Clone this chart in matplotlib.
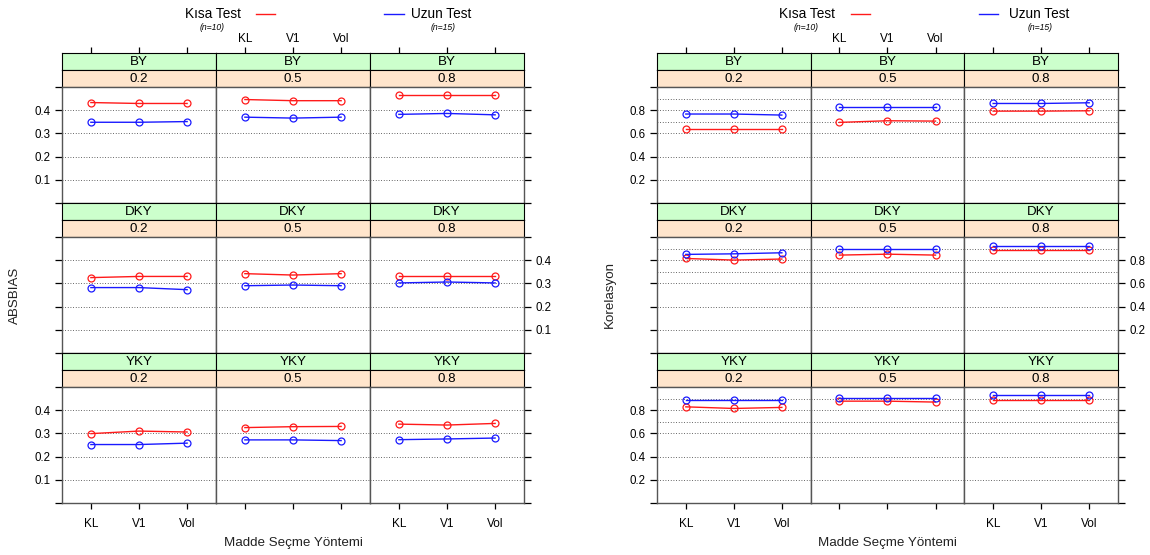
import numpy as np
import matplotlib as mpl
mpl.use('Agg')
import matplotlib.pyplot as plt
from matplotlib.lines import Line2D

plt.rcParams['font.family'] = ['Liberation Sans', 'DejaVu Sans']

W, H = 1150, 555

yontem = ['KL', 'V1', 'Vol']
oran = ['0.2', '0.5', '0.8']
kosul = ['BY', 'DKY', 'YKY']

# values per [kosul][oran][yontem]
absbias_kisa = [[[0.433, 0.429, 0.429], [0.446, 0.441, 0.441], [0.466, 0.466, 0.466]],
                [[0.325, 0.330, 0.330], [0.342, 0.336, 0.342], [0.333, 0.333, 0.333]],
                [[0.299, 0.310, 0.306], [0.325, 0.329, 0.330], [0.340, 0.336, 0.343]]]
absbias_uzun = [[[0.348, 0.348, 0.351], [0.370, 0.366, 0.370], [0.382, 0.386, 0.380]],
                [[0.282, 0.282, 0.273], [0.290, 0.293, 0.290], [0.302, 0.306, 0.302]],
                [[0.252, 0.252, 0.258], [0.272, 0.272, 0.269], [0.273, 0.276, 0.280]]]

kor_kisa = [[[0.638, 0.638, 0.638], [0.695, 0.709, 0.706], [0.792, 0.792, 0.795]],
            [[0.815, 0.801, 0.810], [0.844, 0.852, 0.844], [0.887, 0.887, 0.887]],
            [[0.829, 0.815, 0.824], [0.878, 0.878, 0.870], [0.885, 0.885, 0.885]]]
kor_uzun = [[[0.767, 0.767, 0.758], [0.826, 0.826, 0.826], [0.858, 0.858, 0.864]],
            [[0.850, 0.855, 0.864], [0.898, 0.898, 0.898], [0.921, 0.921, 0.921]],
            [[0.887, 0.887, 0.887], [0.906, 0.906, 0.906], [0.930, 0.930, 0.930]]]

absbias_ticks = [0.0, 0.1, 0.2, 0.3, 0.4, 0.5]
absbias_labels = ['', '0.1', '0.2', '0.3', '0.4', '']
absbias_grid = [0.1, 0.2, 0.3, 0.4]
kor_ticks = [0.0, 0.2, 0.4, 0.6, 0.8, 1.0]
kor_labels = ['', '0.2', '0.4', '0.6', '0.8', '']
kor_grid = [0.2, 0.4, 0.6, 0.7, 0.8, 0.9]

GREEN = '#ccffcc'
ORANGE = '#ffe5cc'
FRAME = '#555555'

fig = plt.figure(figsize=(W / 100, H / 100), dpi=100)


def px_axes(left, top, width, height):
    return fig.add_axes([left / W, 1 - (top + height) / H, width / W, height / H])


def draw_lattice(x0, x1, kisa, uzun, ylim, yticks, ylabels, grid, ylabel, ylab_x, leg):
    cw = (x1 - x0) / 3.0
    rows_top = [53, 203, 353]
    for r in range(3):
        top = rows_top[r]
        for c in range(3):
            left = x0 + c * cw
            # strips
            s1 = px_axes(left, top, cw, 17)
            s1.set_facecolor(GREEN)
            s1.set_xlim(0.4, 3.6)
            s1.set_ylim(0, 1)
            s1.text(0.5, 0.45, kosul[r], transform=s1.transAxes, ha='center', va='center', fontsize=9.6)
            s1.set_yticks([])
            s2 = px_axes(left, top + 17, cw, 17)
            s2.set_facecolor(ORANGE)
            s2.set_xticks([])
            s2.set_yticks([])
            s2.text(0.5, 0.45, oran[c], transform=s2.transAxes, ha='center', va='center', fontsize=9.6)
            for s in (s1, s2):
                for sp in s.spines.values():
                    sp.set_color('black')
                    sp.set_linewidth(0.8)
            if r == 0:
                s1.set_xticks([1, 2, 3])
                s1.xaxis.tick_top()
                s1.tick_params(axis='x', direction='out', length=4, width=0.9, pad=1.5,
                               labelsize=8.5, labeltop=(c == 1), bottom=False, labelbottom=False)
                s1.set_xticklabels(yontem)
            else:
                s1.set_xticks([])

            # panel
            ax = px_axes(left, top + 34, cw, 116)
            ax.set_xlim(0.4, 3.6)
            ax.set_ylim(*ylim)
            for g in grid:
                ax.axhline(g, color='#333333', lw=0.6, ls=(0, (1, 2.2)), zorder=1)
            x = np.arange(1, 4)
            ax.plot(x, kisa[r][c], color='#ff1a1a', lw=1.0, marker='o', ms=5, mfc='none',
                    mew=0.9, zorder=3)
            ax.plot(x, uzun[r][c], color='#1a1aff', lw=1.0, marker='o', ms=5, mfc='none',
                    mew=0.9, zorder=3)
            for sp in ax.spines.values():
                sp.set_color(FRAME)
                sp.set_linewidth(1.0)

            # y ticks on outer sides only
            ax.set_yticks(yticks)
            ax.set_yticklabels(ylabels)
            ax.tick_params(axis='y', direction='out', length=5, width=0.9, pad=3,
                           labelsize=8.3, colors='black',
                           left=(c == 0), labelleft=(c == 0 and r != 1),
                           right=(c == 2), labelright=(c == 2 and r == 1))
            if r == 2:
                ax.set_xticks([1, 2, 3])
                ax.set_xticklabels(yontem)
                ax.tick_params(axis='x', direction='out', length=4, width=0.9, pad=7,
                               labelsize=8.5, labelbottom=(c != 1))
            else:
                ax.set_xticks([])

    # axis labels
    fig.text(((x0 + x1) / 2) / W, 1 - 543 / H, 'Madde Seçme Yöntemi', ha='center', va='center',
             fontsize=9.6, color='#222222')
    fig.text(ylab_x / W, 1 - 295 / H, ylabel, ha='center', va='center', rotation=90,
             fontsize=9.6, color='#222222')

    # legend
    kt_right, red_line, n10_x, blue_line, ut_left, n15_x = leg
    fig.text(kt_right / W, 1 - 14 / H, 'Kısa Test', ha='right', va='center', fontsize=9.8)
    fig.add_artist(Line2D([red_line[0] / W, red_line[1] / W], [1 - 14 / H, 1 - 14 / H],
                          color='#ff1a1a', lw=1.0, transform=fig.transFigure))
    fig.text(n10_x / W, 1 - 28 / H, '(n=10)', ha='center', va='center', fontsize=6.2, style='italic')
    fig.add_artist(Line2D([blue_line[0] / W, blue_line[1] / W], [1 - 14 / H, 1 - 14 / H],
                          color='#1a1aff', lw=1.0, transform=fig.transFigure))
    fig.text(ut_left / W, 1 - 14 / H, 'Uzun Test', ha='left', va='center', fontsize=9.8)
    fig.text(n15_x / W, 1 - 28 / H, '(n=15)', ha='center', va='center', fontsize=6.2, style='italic')


draw_lattice(62, 524, absbias_kisa, absbias_uzun, (0.0, 0.5), absbias_ticks, absbias_labels,
             absbias_grid, 'ABSBIAS', 15,
             (241, (256, 275), 212, (384, 404), 411, 443))
draw_lattice(657, 1118, kor_kisa, kor_uzun, (0.0, 1.0), kor_ticks, kor_labels,
             kor_grid, 'Korelasyon', 610,
             (835, (851, 870), 806, (979, 998), 1009, 1040))

fig.savefig('out.png', dpi=100)
